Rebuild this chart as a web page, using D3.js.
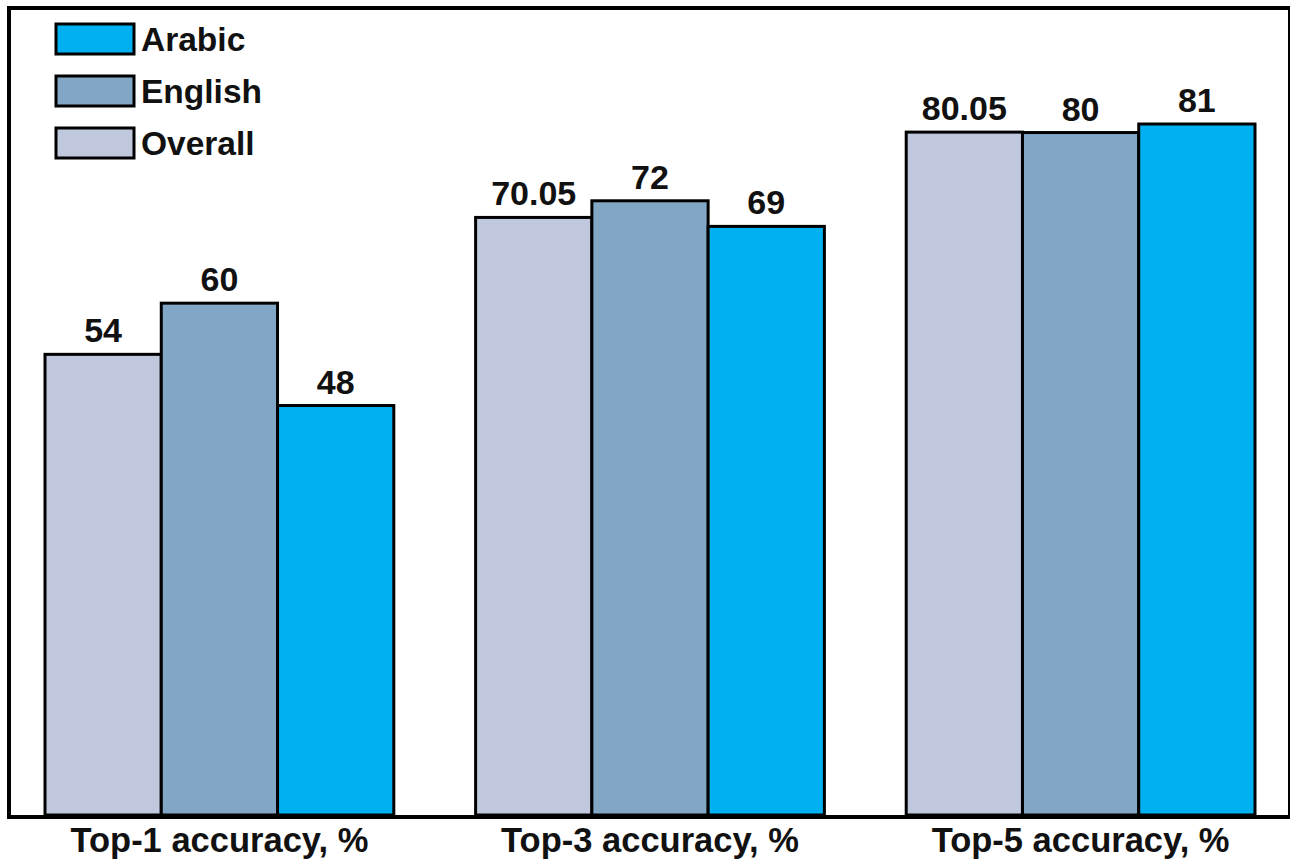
<!DOCTYPE html>
<html>
<head>
<meta charset="utf-8">
<script src="https://cdn.jsdelivr.net/npm/d3@7"></script>
<style>
  html, body { margin: 0; padding: 0; background: #fff; }
  svg { display: block; font-family: "Liberation Sans", Arial, sans-serif; font-weight: bold; }
</style>
</head>
<body>
<svg id="chart" width="1290" height="863"></svg>
<script>
// Accuracy metrics
const categories = ["Top-1 accuracy, %", "Top-3 accuracy, %", "Top-5 accuracy, %"];
const seriesNames = ["Overall", "English", "Arabic"];
const overall = [54, 70.05, 80.05];
const english = [60, 72, 80];
const arabic  = [48, 69, 81];
const legendOrder = ["Arabic", "English", "Overall"];

const colors = { Overall: "#c0c8de", English: "#82a6c5", Arabic: "#00b0f0" };
const seriesValues = { Overall: overall, English: english, Arabic: arabic };

const svg = d3.select("#chart");

const x0 = d3.scaleBand().domain(categories).range([45, 1255]).paddingInner(0.19).paddingOuter(0);
const x1 = d3.scaleBand().domain(seriesNames).range([0, x0.bandwidth()]).padding(0);
const y = d3.scaleLinear().domain([0, 94.6]).range([815, 8]);

// Outer frame
svg.append("rect")
  .attr("x", 9).attr("y", 8)
  .attr("width", 1281).attr("height", 809)
  .attr("fill", "none").attr("stroke", "#000").attr("stroke-width", 4);

const rows = categories.map((c, i) => ({
  cat: c,
  values: seriesNames.map(s => ({ series: s, value: seriesValues[s][i] }))
}));

const groups = svg.append("g").selectAll("g")
  .data(rows).join("g")
  .attr("transform", d => `translate(${x0(d.cat)},0)`);

groups.selectAll("rect")
  .data(d => d.values).join("rect")
  .attr("x", d => x1(d.series))
  .attr("y", d => y(d.value))
  .attr("width", x1.bandwidth())
  .attr("height", d => y(0) - y(d.value))
  .attr("fill", d => colors[d.series])
  .attr("stroke", "#000").attr("stroke-width", 3);

groups.selectAll("text")
  .data(d => d.values).join("text")
  .attr("x", d => x1(d.series) + x1.bandwidth() / 2)
  .attr("y", d => y(d.value) - 12)
  .attr("text-anchor", "middle")
  .attr("font-size", 34)
  .attr("fill", "#111")
  .text(d => d.value);

// Bottom frame edge redrawn over bars
svg.append("line")
  .attr("x1", 9).attr("x2", 1290)
  .attr("y1", 817).attr("y2", 817)
  .attr("stroke", "#000").attr("stroke-width", 4);

// Category axis labels
const xAxis = d3.axisBottom(x0).tickSize(0).tickPadding(0);
const axisG = svg.append("g").attr("transform", "translate(0,827)").call(xAxis);
axisG.select(".domain").remove();
axisG.selectAll("text")
  .attr("font-size", 34.5)
  .attr("font-family", "Liberation Sans, Arial, sans-serif")
  .attr("font-weight", "bold")
  .attr("fill", "#111")
  .attr("dy", "0.71em");

// Legend
const legend = svg.append("g").selectAll("g")
  .data(legendOrder).join("g")
  .attr("transform", (d, i) => `translate(56,${24 + i * 52})`);
legend.append("rect")
  .attr("width", 78).attr("height", 30)
  .attr("fill", d => colors[d])
  .attr("stroke", "#000").attr("stroke-width", 3);
legend.append("text")
  .attr("x", 85).attr("y", 27)
  .attr("font-size", 33.5)
  .attr("fill", "#111")
  .text(d => d);
</script>
</body>
</html>
